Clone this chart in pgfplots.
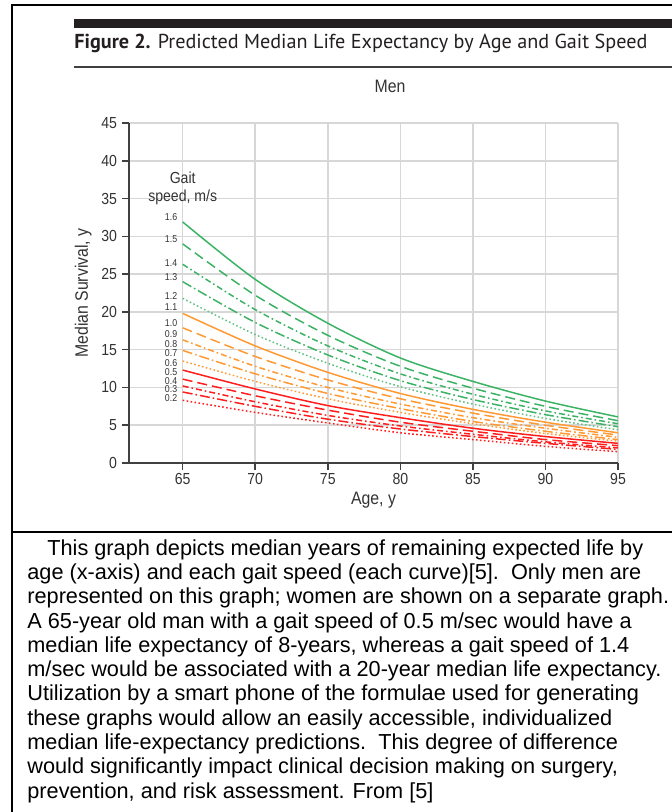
\documentclass[border=0pt]{standalone}
\usepackage{fontspec}
\setmainfont{Liberation Sans}
\newfontfamily\titlefont{PT Sans}
\newfontfamily\chartfont{Liberation Sans}[FakeStretch=0.88]
\usepackage{pgfplots}
\usepackage{pgfplotstable}
\pgfplotsset{compat=1.18}

\definecolor{gsgreen}{RGB}{60,179,100}
\definecolor{gsorange}{RGB}{255,153,51}
\definecolor{gsred}{RGB}{255,30,30}
\definecolor{axgray}{RGB}{64,64,64}
\definecolor{gridgray}{RGB}{215,215,215}
\definecolor{txtgray}{RGB}{51,51,51}
\definecolor{barblack}{RGB}{35,31,32}

% median survival (years) by age, one column per gait speed (m/s)
\pgfplotstableread{
age s16  s15  s14  s13  s12  s11  s10  s09  s08  s07  s06  s05  s04  s03 s02
65  31.9 29.0 26.3 24.0 21.8 19.8 17.9 16.3 14.9 13.5 12.3 11.1 10.2 9.4 8.3
70  24.3 22.2 20.3 18.6 17.0 15.5 14.1 12.8 11.8 10.8 9.8  8.9  8.1  7.5 6.7
75  18.5 16.9 15.5 14.3 13.2 12.0 11.0 10.0 9.2  8.5  7.6  7.0  6.3  5.8 5.3
80  13.9 12.8 11.8 10.9 10.1 9.2  8.5  7.8  7.2  6.7  6.0  5.4  4.9  4.5 4.0
85  10.8 9.9  9.1  8.4  7.8  7.1  6.6  6.0  5.5  5.2  4.6  4.2  3.8  3.5 3.1
90  8.2  7.5  6.9  6.4  5.9  5.4  5.0  4.6  4.2  3.9  3.5  3.1  2.8  2.6 2.2
95  6.1  5.6  5.2  4.8  4.4  4.0  3.7  3.4  3.1  2.9  2.6  2.3  2.0  1.8 1.5
}\survival

\tikzset{
  ls1/.style={solid},
  ls2/.style={dash pattern=on 5pt off 2.5pt},
  ls3/.style={dash pattern=on 3pt off 1.5pt on 0.8pt off 1.5pt},
  ls4/.style={dash pattern=on 5pt off 1.5pt on 0.8pt off 1.5pt},
  ls5/.style={dash pattern=on 0.8pt off 1.2pt},
}

\begin{document}
\begin{tikzpicture}
\path[use as bounding box] (0,0) rectangle (335.5pt,-406pt);

\begin{scope}[x=0.5pt,y=-0.5pt]
  % frame
  \draw[line width=1pt] (12,813) -- (12,5) -- (672,5);
  \draw[line width=1pt] (12,532) -- (672,532);
  % heading rules
  \fill[barblack] (74,19) rectangle (672,28);
  \draw[axgray, line width=0.7pt] (74,67) -- (672,67);
  \node[anchor=base west, inner sep=0, font=\titlefont\fontsize{10.1}{11}\selectfont, text=barblack]
    at (74,49) {\textbf{Figure 2.} Predicted Median Life Expectancy by Age and Gait Speed};
  \node[font=\chartfont\fontsize{9}{10}\selectfont, text=txtgray] at (390,86) {Men};
  % caption text
  \node[anchor=north west, inner sep=0, align=left, font=\fontsize{10.85}{12.15}\selectfont]
    at (27,539) {\hspace*{10pt}This graph depicts median years of remaining expected life by\\
age (x-axis) and each gait speed (each curve)[5].\ \ Only men are\\
represented on this graph; women are shown on a separate graph.\\
A 65-year old man with a gait speed of 0.5 m/sec would have a\\
median life expectancy of 8-years, whereas a gait speed of 1.4\\
m/sec would be associated with a 20-year median life expectancy.\\
Utilization by a smart phone of the formulae used for generating\\
these graphs would allow an easily accessible, individualized\\
median life-expectancy predictions.\ \ This degree of difference\\
would significantly impact clinical decision making on surgery,\\
prevention, and risk assessment. From [5]};
\end{scope}

\begin{axis}[
    at={(64.5pt,-231.5pt)}, anchor=south west,
    scale only axis, width=244.5pt, height=170pt,
    xmin=61.3, xmax=95, ymin=0, ymax=45,
    xtick={65,70,...,95}, ytick={0,5,...,45},
    axis lines*=left,
    axis line style={axgray, line width=0.75pt},
    tick align=outside, major tick length=3.5pt,
    tick style={axgray, line width=0.75pt},
    grid=major, grid style={gridgray, line width=0.75pt},
    /pgf/number format/assume math mode=true,
    ticklabel style={font=\chartfont\fontsize{8}{9}\selectfont, text=txtgray},
    xticklabel style={yshift=2pt},
    yticklabel style={xshift=1pt},
    xlabel={Age, y}, ylabel={Median Survival, y},
    label style={font=\chartfont\fontsize{9}{10}\selectfont, text=txtgray},
    xlabel style={yshift=3pt},
    ylabel style={yshift=-2pt},
    every axis plot/.append style={line width=0.75pt, smooth},
    clip=false,
  ]
  \addplot[gsgreen, ls1] table[x=age, y=s16] {\survival};
  \addplot[gsgreen, ls2] table[x=age, y=s15] {\survival};
  \addplot[gsgreen, ls3] table[x=age, y=s14] {\survival};
  \addplot[gsgreen, ls4] table[x=age, y=s13] {\survival};
  \addplot[gsgreen!80, ls5] table[x=age, y=s12] {\survival};
  \addplot[gsorange, ls1] table[x=age, y=s11] {\survival};
  \addplot[gsorange, ls2] table[x=age, y=s10] {\survival};
  \addplot[gsorange, ls3] table[x=age, y=s09] {\survival};
  \addplot[gsorange, ls4] table[x=age, y=s08] {\survival};
  \addplot[gsorange, ls5] table[x=age, y=s07] {\survival};
  \addplot[gsred, ls1] table[x=age, y=s06] {\survival};
  \addplot[gsred, ls2] table[x=age, y=s05] {\survival};
  \addplot[gsred, ls3] table[x=age, y=s04] {\survival};
  \addplot[gsred, ls4] table[x=age, y=s03] {\survival};
  \addplot[gsred, ls5] table[x=age, y=s02] {\survival};

  \node[align=center, font=\chartfont\fontsize{8}{9}\selectfont, text=txtgray]
    at (axis cs:65,36.4) {Gait\\speed, m/s};
  \begin{scope}[every node/.style={anchor=east, inner sep=0, font=\chartfont\fontsize{5}{5}\selectfont, text=txtgray}]
    \node at (axis cs:64.65,32.5) {1.6};
    \node at (axis cs:64.65,29.6) {1.5};
    \node at (axis cs:64.65,26.45) {1.4};
    \node at (axis cs:64.65,24.6) {1.3};
    \node at (axis cs:64.65,22.1) {1.2};
    \node at (axis cs:64.65,20.7) {1.1};
    \node at (axis cs:64.65,18.5) {1.0};
    \node at (axis cs:64.65,17.0) {0.9};
    \node at (axis cs:64.65,15.8) {0.8};
    \node at (axis cs:64.65,14.6) {0.7};
    \node at (axis cs:64.65,13.2) {0.6};
    \node at (axis cs:64.65,12.05) {0.5};
    \node at (axis cs:64.65,10.9) {0.4};
    \node at (axis cs:64.65,9.75) {0.3};
    \node at (axis cs:64.65,8.6) {0.2};
  \end{scope}
\end{axis}
\end{tikzpicture}
\end{document}
